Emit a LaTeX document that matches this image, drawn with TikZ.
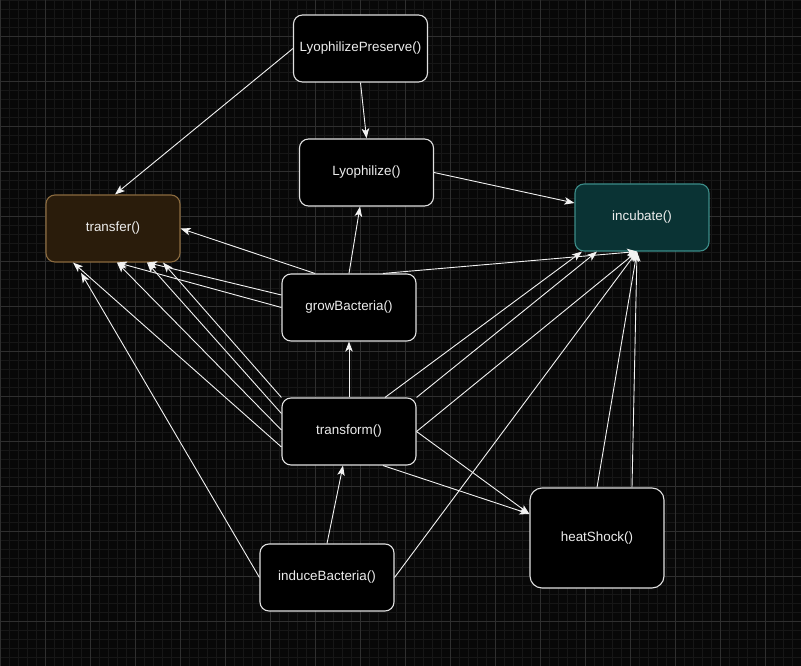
\documentclass[tikz,border=0pt]{standalone}
\usepackage{fontspec}
\setmainfont{Liberation Sans}
\usetikzlibrary{arrows.meta}
\definecolor{canvas}{HTML}{080808}
\definecolor{minorgrid}{HTML}{171717}
\definecolor{majorgrid}{HTML}{2F2F2F}
\definecolor{brownfill}{HTML}{2A1C0B}
\definecolor{browndraw}{HTML}{8A6A3E}
\definecolor{tealfill}{HTML}{0A3334}
\definecolor{tealdraw}{HTML}{3C8C88}

\begin{document}
\begin{tikzpicture}[x=1pt, y=-1pt,
    box/.style={draw=white!88!black, fill=black, line width=1.1pt, rounded corners=9pt,
      minimum width=134pt, minimum height=67pt, inner sep=0pt,
      text=white!93!black, font=\fontsize{13.4}{15}\selectfont},
    link/.style={draw=white!95!black, line width=0.9pt, -{Stealth[length=10pt, width=7.5pt, inset=2.5pt]}}]
    \useasboundingbox (0,0) rectangle (801,666);
    \fill[canvas] (0,0) rectangle (801,666);
    \foreach \gx in {0.7,9.7,...,801} \draw[minorgrid, line width=0.6pt] (\gx,0) -- (\gx,666);
    \foreach \gy in {0.7,9.7,...,666} \draw[minorgrid, line width=0.6pt] (0,\gy) -- (801,\gy);
    \foreach \gx in {0.7,45.7,...,801} \draw[majorgrid, line width=0.8pt] (\gx,0) -- (\gx,666);
    \foreach \gy in {36.7,81.7,...,666} \draw[majorgrid, line width=0.8pt] (0,\gy) -- (801,\gy);

    \node[box] (LP) at (360.5,48.5) {LyophilizePreserve()};
    \node[box] (Ly) at (366.5,172.5) {Lyophilize()};
    \node[box, fill=brownfill, draw=browndraw] (Tr) at (113,228.5) {transfer()};
    \node[box, fill=tealfill, draw=tealdraw] (In) at (642,217.5) {incubate()};
    \node[box] (GB) at (349,307.5) {growBacteria()};
    \node[box] (TF) at (349,431.5) {transform()};
    \node[box] (IB) at (327,577.5) {induceBacteria()};
    \node[box, minimum height=100pt, rounded corners=12pt] (HS) at (597,538) {heatShock()};

    \draw[link] (LP.west) -- ([xshift=2pt]Tr.north);
    \draw[link] (LP.south) -- (Ly.north);
    \draw[link] (Ly.east) -- ([yshift=14.5pt]In.west);
    \draw[link] (GB.north) -- ([xshift=-6.5pt]Ly.south);
    \draw[link] ([xshift=-34pt]GB.north) -- (Tr.east);
    \draw[link] ([yshift=12.5pt]GB.west) -- ([xshift=34pt]Tr.south);
    \draw[link] (GB.west) -- ([xshift=4pt]Tr.south);
    \draw[link] ([xshift=34pt]GB.north) -- ([xshift=-5pt]In.south);
    \draw[link] (TF.north) -- (GB.south);
    \draw[link] (TF.north west) -- ([xshift=50pt]Tr.south);
    \draw[link] ([yshift=18pt]TF.west) -- ([xshift=34pt]Tr.south);
    \draw[link] ([yshift=1.5pt]TF.west) -- ([xshift=4pt]Tr.south);
    \draw[link] ([yshift=-15.5pt]TF.west) -- ([xshift=-40pt]Tr.south);
    \draw[link] ([xshift=36pt]TF.north) -- ([xshift=-60pt]In.south);
    \draw[link] (TF.north east) -- ([xshift=-45pt]In.south);
    \draw[link] (TF.east) -- ([xshift=-5pt]In.south);
    \draw[link] (TF.east) -- ([yshift=24pt]HS.west);
    \draw[link] ([xshift=34pt]TF.south) -- ([yshift=24pt]HS.west);
    \draw[link] (IB.north) -- ([xshift=-6pt]TF.south);
    \draw[link, shorten >=12pt] (IB.west) -- ([xshift=-38pt]Tr.south);
    \draw[link] (IB.east) -- ([xshift=-5pt]In.south);
    \draw[link] (HS.north) -- ([xshift=-5pt]In.south);
    \draw[link] ([xshift=35pt]HS.north) -- ([xshift=-5pt]In.south);
  \end{tikzpicture}
\end{document}
